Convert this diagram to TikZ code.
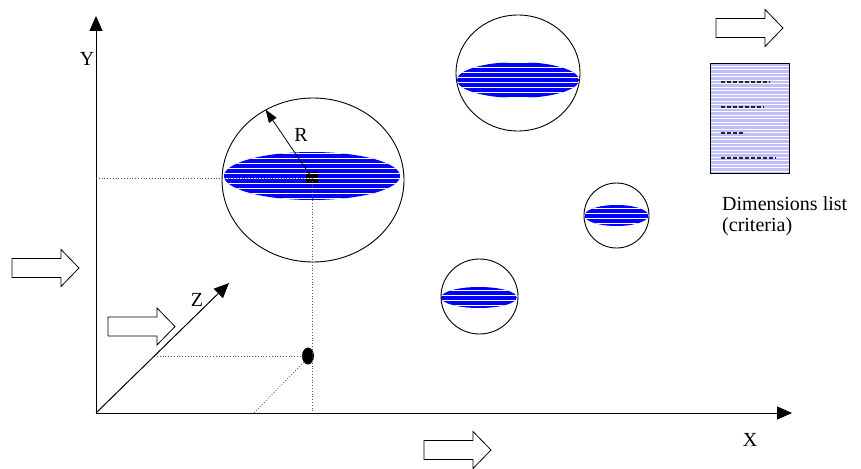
\documentclass[tikz,border=0pt]{standalone}
\usepackage{fontspec}
\setmainfont{Liberation Serif}
\newfontfamily\labelface{Liberation Serif}
\usetikzlibrary{arrows.meta,shapes.geometric}

% blue lens with white horizontal stripes: centre x, centre y, x radius, y radius, extra drawing under the stripes
\newcommand\stripedlens[5]{%
  \begin{scope}
    \clip (#1,#2) ellipse [x radius=#3, y radius=#4];
    \fill[lensblue] (#1-#3,#2-#4) rectangle (#1+#3,#2+#4);
    #5
    \foreach \s in {-22.5,-17.5,...,25} {
      \draw[white, line width=0.75pt] (#1-#3,#2+\s) -- (#1+#3,#2+\s);
    }
  \end{scope}}

\definecolor{lensblue}{RGB}{0,0,255}
\definecolor{paper}{RGB}{190,190,250}

\begin{document}
\begin{tikzpicture}[x=1pt,y=-1pt,
  axis/.style={line width=1pt,-{Triangle[length=15pt,width=13pt]}},
  guide/.style={dotted, line width=0.8pt, black!65},
  sphere/.style={ellipse, draw, line width=0.9pt, inner sep=0pt},
  lbl/.style={font=\labelface\fontsize{20}{22}\selectfont, inner sep=0pt},
  fatarrow/.pic={\draw[line width=0.8pt, fill=white]
      (0,-9.5) -- (49,-9.5) -- (49,-18.5) -- (67,0) -- (49,18.5) -- (49,9.5) -- (0,9.5) -- cycle;}]

\useasboundingbox (0,0) rectangle (861,468);

% coordinate frame
\coordinate (O) at (96,413);
\coordinate (Xend) at (792,413);
\coordinate (Yend) at (96,16);
\coordinate (Zend) at (229,283);
\draw[axis] (O) -- (Xend);
\draw[axis] (O) -- (Yend);
\draw[axis] (O) -- (Zend);
\node[lbl] (ylab) at (87,59) {Y};
\node[lbl] (xlab) at (750,440) {X};
\node[lbl] (zlab) at (197,300) {Z};

% lenses
\stripedlens{312}{176}{88}{24}{\fill[black] (306,172) rectangle (318,184);}
\stripedlens{518}{80}{61}{18}{}
\stripedlens{616.5}{215.5}{32}{10.5}{}
\stripedlens{479}{297.5}{38}{10.5}{}

% spheres
\node[sphere, minimum width=182pt, minimum height=164pt] (s1) at (313,180) {};
\node[sphere, minimum width=124pt, minimum height=116pt] (s2) at (518,73) {};
\node[sphere, minimum width=65pt, minimum height=65pt] (s3) at (616.5,215.5) {};
\node[sphere, minimum width=77pt, minimum height=75pt] (s4) at (479.5,296.5) {};

% projection guides
\coordinate (c1) at (312,178);
\coordinate (yproj) at (96,178);
\coordinate (xproj) at (312,413);
\coordinate (zproj) at (157,356);
\coordinate (fproj) at (254,413);
\node[ellipse, fill=black, minimum width=12pt, minimum height=17pt, inner sep=0pt] (pt) at (308,356) {};
\draw[guide] (yproj) -- (c1);
\draw[guide] (c1) -- (xproj);
\draw[guide] (zproj) -- (pt.west);
\draw[guide] (pt.south west) -- (fproj);

% radius
\draw[line width=0.8pt, -{Triangle[length=13pt,width=9pt]}] (c1) -- (s1.124);
\node[lbl] (rlab) at (301,135) {R};

% block arrows
\pic (arL) at (12,268) {fatarrow};
\pic (arB) at (424,450) {fatarrow};
\pic (arZ) at (108,326.5) {fatarrow};
\pic (arT) at (716,28) {fatarrow};

% dimensions list sheet
\node[draw, line width=0.8pt, fill=paper, minimum width=79pt, minimum height=110pt,
      inner sep=0pt, anchor=north west] (doc) at (710,63) {};
\foreach \y in {66,69.5,...,172} {
  \draw[white, line width=0.6pt] ([xshift=0.6pt]doc.west |- 0,\y) -- ([xshift=-0.6pt]doc.east |- 0,\y);
}
\draw[line width=1.3pt, black!85, dash pattern=on 4pt off 2pt]
  (721,82) -- (770,82)
  (721,107) -- (764,107)
  (721,133) -- (745,133)
  (721,158) -- (776,158);
\node[lbl, anchor=base west] (dim1) at (722,210) {Dimensions list};
\node[lbl, anchor=base west] (dim2) at (722,231) {(criteria)};

\end{tikzpicture}
\end{document}
